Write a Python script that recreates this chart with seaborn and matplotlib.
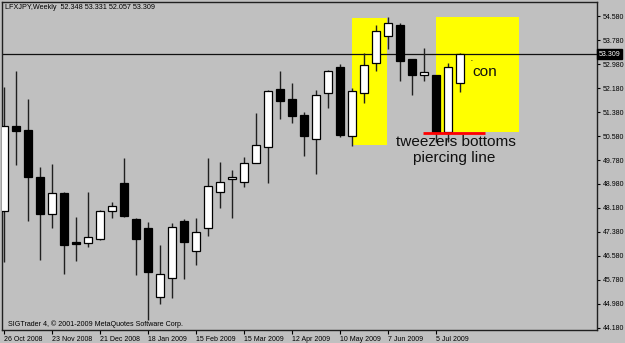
import numpy as np
import pandas as pd
import matplotlib
matplotlib.use("Agg")
import matplotlib.pyplot as plt
import matplotlib.transforms as mtransforms
from matplotlib.patches import Rectangle
import seaborn as sns

# ---------------- data ----------------
symbol_title = "LFXJPY,Weekly  52.348 53.331 52.057 53.309"
opens = [48.09, 50.91, 50.78, 49.20, 47.98, 48.67, 47.05, 47.00, 47.15, 48.09,
         49.02, 47.80, 47.50, 45.22, 45.84, 47.75, 46.76, 47.50, 48.72, 49.14,
         49.06, 49.67, 50.22, 52.15, 51.81, 51.27, 50.47, 52.00, 52.89, 50.59,
         52.00, 53.00, 53.91, 54.28, 53.16, 52.60, 52.60, 50.70, 52.348]
highs = [52.22, 52.75, 51.81, 49.56, 49.65, 48.70, 47.89, 48.72, 48.12, 48.39,
         49.86, 47.84, 47.72, 46.95, 47.69, 47.80, 47.86, 49.84, 49.72, 49.45,
         49.87, 51.34, 52.11, 52.76, 52.36, 51.38, 52.11, 52.78, 52.98, 52.17,
         53.34, 54.28, 54.54, 54.34, 53.16, 53.50, 52.60, 53.02, 53.331]
lows = [46.39, 49.61, 47.75, 46.45, 47.50, 45.97, 46.40, 46.89, 47.12, 47.84,
        47.89, 45.96, 44.45, 44.97, 45.17, 45.81, 46.28, 47.25, 48.17, 47.86,
        48.89, 49.67, 49.00, 51.14, 51.02, 49.91, 49.31, 51.50, 50.54, 50.26,
        51.67, 52.76, 53.47, 52.42, 51.95, 52.42, 50.39, 50.38, 52.057]
closes = [50.92, 50.76, 49.22, 47.98, 48.67, 46.95, 46.98, 47.20, 48.09, 48.25,
          47.91, 47.15, 46.04, 45.97, 47.54, 47.06, 47.39, 48.91, 49.06, 49.20,
          49.69, 50.27, 52.08, 51.75, 51.26, 50.58, 51.94, 52.76, 50.61, 52.08,
          52.95, 54.08, 54.34, 53.09, 52.60, 52.71, 50.70, 52.89, 53.309]
date_tick_idx = [0, 4, 8, 12, 16, 20, 24, 28, 32, 36]
date_labels = ["26 Oct 2008", "23 Nov 2008", "21 Dec 2008", "18 Jan 2009",
               "15 Feb 2009", "15 Mar 2009", "12 Apr 2009", "10 May 2009",
               "7 Jun 2009", "5 Jul 2009"]
price_ticks = [44.18, 44.98, 45.78, 46.58, 47.38, 48.18, 48.98, 49.78,
               50.58, 51.38, 52.18, 52.98, 53.78, 54.58]
last_price = 53.309
copyright_text = "SIGTrader 4, \u00a9 2001-2009 MetaQuotes Software Corp."

# annotation geometry (data coordinates)
rect_x0 = [28.97, 35.97]
rect_x1 = [31.94, 42.94]
rect_y0 = [50.28, 50.71]
rect_y1 = [54.52, 54.54]
support_level = 50.69
support_x = [34.94, 40.08]

# ---------------- style ----------------
BG = "#c0c0c0"
sns.set_style("white")
plt.rcParams['font.family'] = ['Liberation Sans', 'DejaVu Sans']

fig = plt.figure(figsize=(6.25, 3.43), dpi=100, facecolor=BG)
ax = fig.add_axes([2 / 625, 13 / 343, 595 / 625, 328 / 343])
ax.set_facecolor(BG)

n = len(opens)
df = pd.DataFrame({"i": np.arange(n), "open": opens, "high": highs,
                   "low": lows, "close": closes})
df["bottom"] = df[["open", "close"]].min(axis=1)
df["height"] = (df["close"] - df["open"]).abs().clip(lower=0.04)
up = df[df["close"] >= df["open"]].reset_index(drop=True)
down = df[df["close"] < df["open"]].reset_index(drop=True)

# yellow highlight boxes
for x0, x1, y0, y1 in zip(rect_x0, rect_x1, rect_y0, rect_y1):
    ax.add_patch(Rectangle((x0, y0), x1 - x0, y1 - y0, facecolor="#ffff00",
                           edgecolor="none", zorder=1))

# last price line
ax.axhline(last_price, color="#101010", lw=0.9, zorder=1.5)

# wicks
ax.vlines(df["i"], df["low"], df["high"], color="#202020", lw=1.0, zorder=2)

# bodies
for sub, col in ((up, "white"), (down, "black")):
    sns.barplot(data=sub, x="i", y="height", bottom=sub["bottom"].to_numpy(),
                native_scale=True, width=0.7, color=col, saturation=1,
                edgecolor="black", linewidth=0.9, errorbar=None, ax=ax, zorder=3)

# red support line
ax.plot(support_x, [support_level, support_level], color="#ff0000", lw=2,
        solid_capstyle="butt", zorder=4)

ax.set_xlabel("")
ax.set_ylabel("")
ax.set_xlim(-0.167, 49.42)
ax.set_ylim(44.113, 55.047)

# axes / ticks
for s in ax.spines.values():
    s.set_color("#202020")
    s.set_linewidth(1.0)
    s.set_visible(True)

ax.yaxis.tick_right()
ax.set_yticks(price_ticks)
ax.set_yticklabels([f"{v:.3f}" for v in price_ticks])
ax.tick_params(axis="y", which="both", right=True, left=False, direction="out",
               length=2, width=0.8, pad=2, labelsize=5, colors="#000000")
ax.set_xticks(date_tick_idx)
ax.set_xticklabels(date_labels, ha="left")
ax.tick_params(axis="x", which="both", bottom=True, direction="out", length=3,
               width=0.8, pad=1, labelsize=5, colors="#000000")
for lbl in ax.get_xticklabels():
    lbl.set_horizontalalignment("left")
ax.grid(False)

# current price label box
trans = mtransforms.blended_transform_factory(ax.transAxes, ax.transData)
ax.text(1.003, last_price, f"{last_price:.3f}", transform=trans, ha="left",
        va="center", fontsize=5, color="white", zorder=6, clip_on=False,
        bbox=dict(facecolor="black", edgecolor="black", pad=1.2))

# texts
fig.text(5 / 625, 1 - 7.5 / 343, symbol_title, ha="left", va="center",
         fontsize=5.2, color="black")
ax.text(0.3, 44.31, copyright_text, ha="left", va="center", fontsize=5.1,
        color="black", zorder=6)
ax.text(32.7, 50.25, "tweezers bottoms", ha="left", va="baseline",
        fontsize=11.1, color="#101010", zorder=6)
ax.text(34.1, 49.72, "piercing line", ha="left", va="baseline",
        fontsize=11.1, color="#101010", zorder=6)
ax.text(39.05, 52.57, "con", ha="left", va="baseline",
        fontsize=11.1, color="#101010", zorder=6)
ax.text(39.0, 53.08, "\u00b7", ha="center", va="center",
        fontsize=8, color="#101010", zorder=6)

fig.savefig("out.png", dpi=100, facecolor=BG)
